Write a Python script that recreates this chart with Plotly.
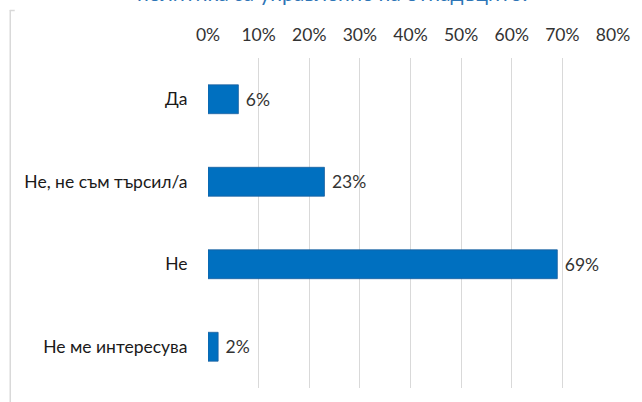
import plotly.graph_objects as go

categories = ["Да", "Не, не съм търсил/а", "Не", "Не ме интересува"]
values = [0.06, 0.23, 0.69, 0.02]
value_labels = ["6%", "23%", "69%", "2%"]
tick_vals = [0, 0.1, 0.2, 0.3, 0.4, 0.5, 0.6, 0.7, 0.8]
tick_text = ["0%", "10%", "20%", "30%", "40%", "50%", "60%", "70%", "80%"]
title_text = "политика за управление на отпадъците?"

W, H = 642, 402
ML, MR, MT, MB = 207.5, 29, 58, 14
PW, PH = W - ML - MR, H - MT - MB

def px(x):
    return (x - ML) / PW

def py(y):
    return (H - MB - y) / PH

FONT = "Lato"
TXT = "#333333"
FS = 17.5

fig = go.Figure(go.Bar(
    x=values, y=categories, orientation="h",
    marker=dict(color="#0070C0", line=dict(color="#1a5f9e", width=0.8)),
    width=0.35,
    text=[" " + t for t in value_labels], textposition="outside",
    textfont=dict(family=FONT, size=FS, color=TXT),
    cliponaxis=False,
))

fig.update_layout(
    width=W, height=H,
    margin=dict(l=ML, r=MR, t=MT, b=MB, pad=0),
    paper_bgcolor="white", plot_bgcolor="white",
    showlegend=False,
    font=dict(family=FONT, size=FS, color=TXT),
    xaxis=dict(range=[0, 0.8], side="top", tickvals=tick_vals, ticktext=tick_text,
               showgrid=True, gridcolor="#d9d9d9", gridwidth=1, zeroline=False,
               showline=False, ticks="outside", ticklen=9, tickcolor="rgba(0,0,0,0)",
               tickfont=dict(family=FONT, size=FS, color=TXT), fixedrange=True),
    yaxis=dict(categoryorder="array", categoryarray=categories[::-1],
               showgrid=False, zeroline=False, showline=False,
               ticks="outside", ticklen=16, tickcolor="rgba(0,0,0,0)",
               tickfont=dict(family=FONT, size=FS, color="#1a1a1a"),
               range=[-0.5, 3.5]),
    annotations=[dict(text=title_text, x=px(333), y=py(-7), xref="paper", yref="paper",
                      xanchor="center", yanchor="middle", showarrow=False,
                      font=dict(family=FONT, size=21, color="#2E75B6"))],
    shapes=[
        dict(type="line", xref="paper", yref="paper", x0=px(9.5), x1=px(9.5), y0=py(10), y1=py(405),
             line=dict(color="#d9d9d9", width=1.5)),
        dict(type="line", xref="paper", yref="paper", x0=px(9), x1=px(14), y0=py(10.5), y1=py(10.5),
             line=dict(color="#d9d9d9", width=1.5)),
    ],
)

fig.write_html("out.html", config={"displayModeBar": False},
               post_script="document.body.style.margin='0';document.body.style.overflow='hidden';")
